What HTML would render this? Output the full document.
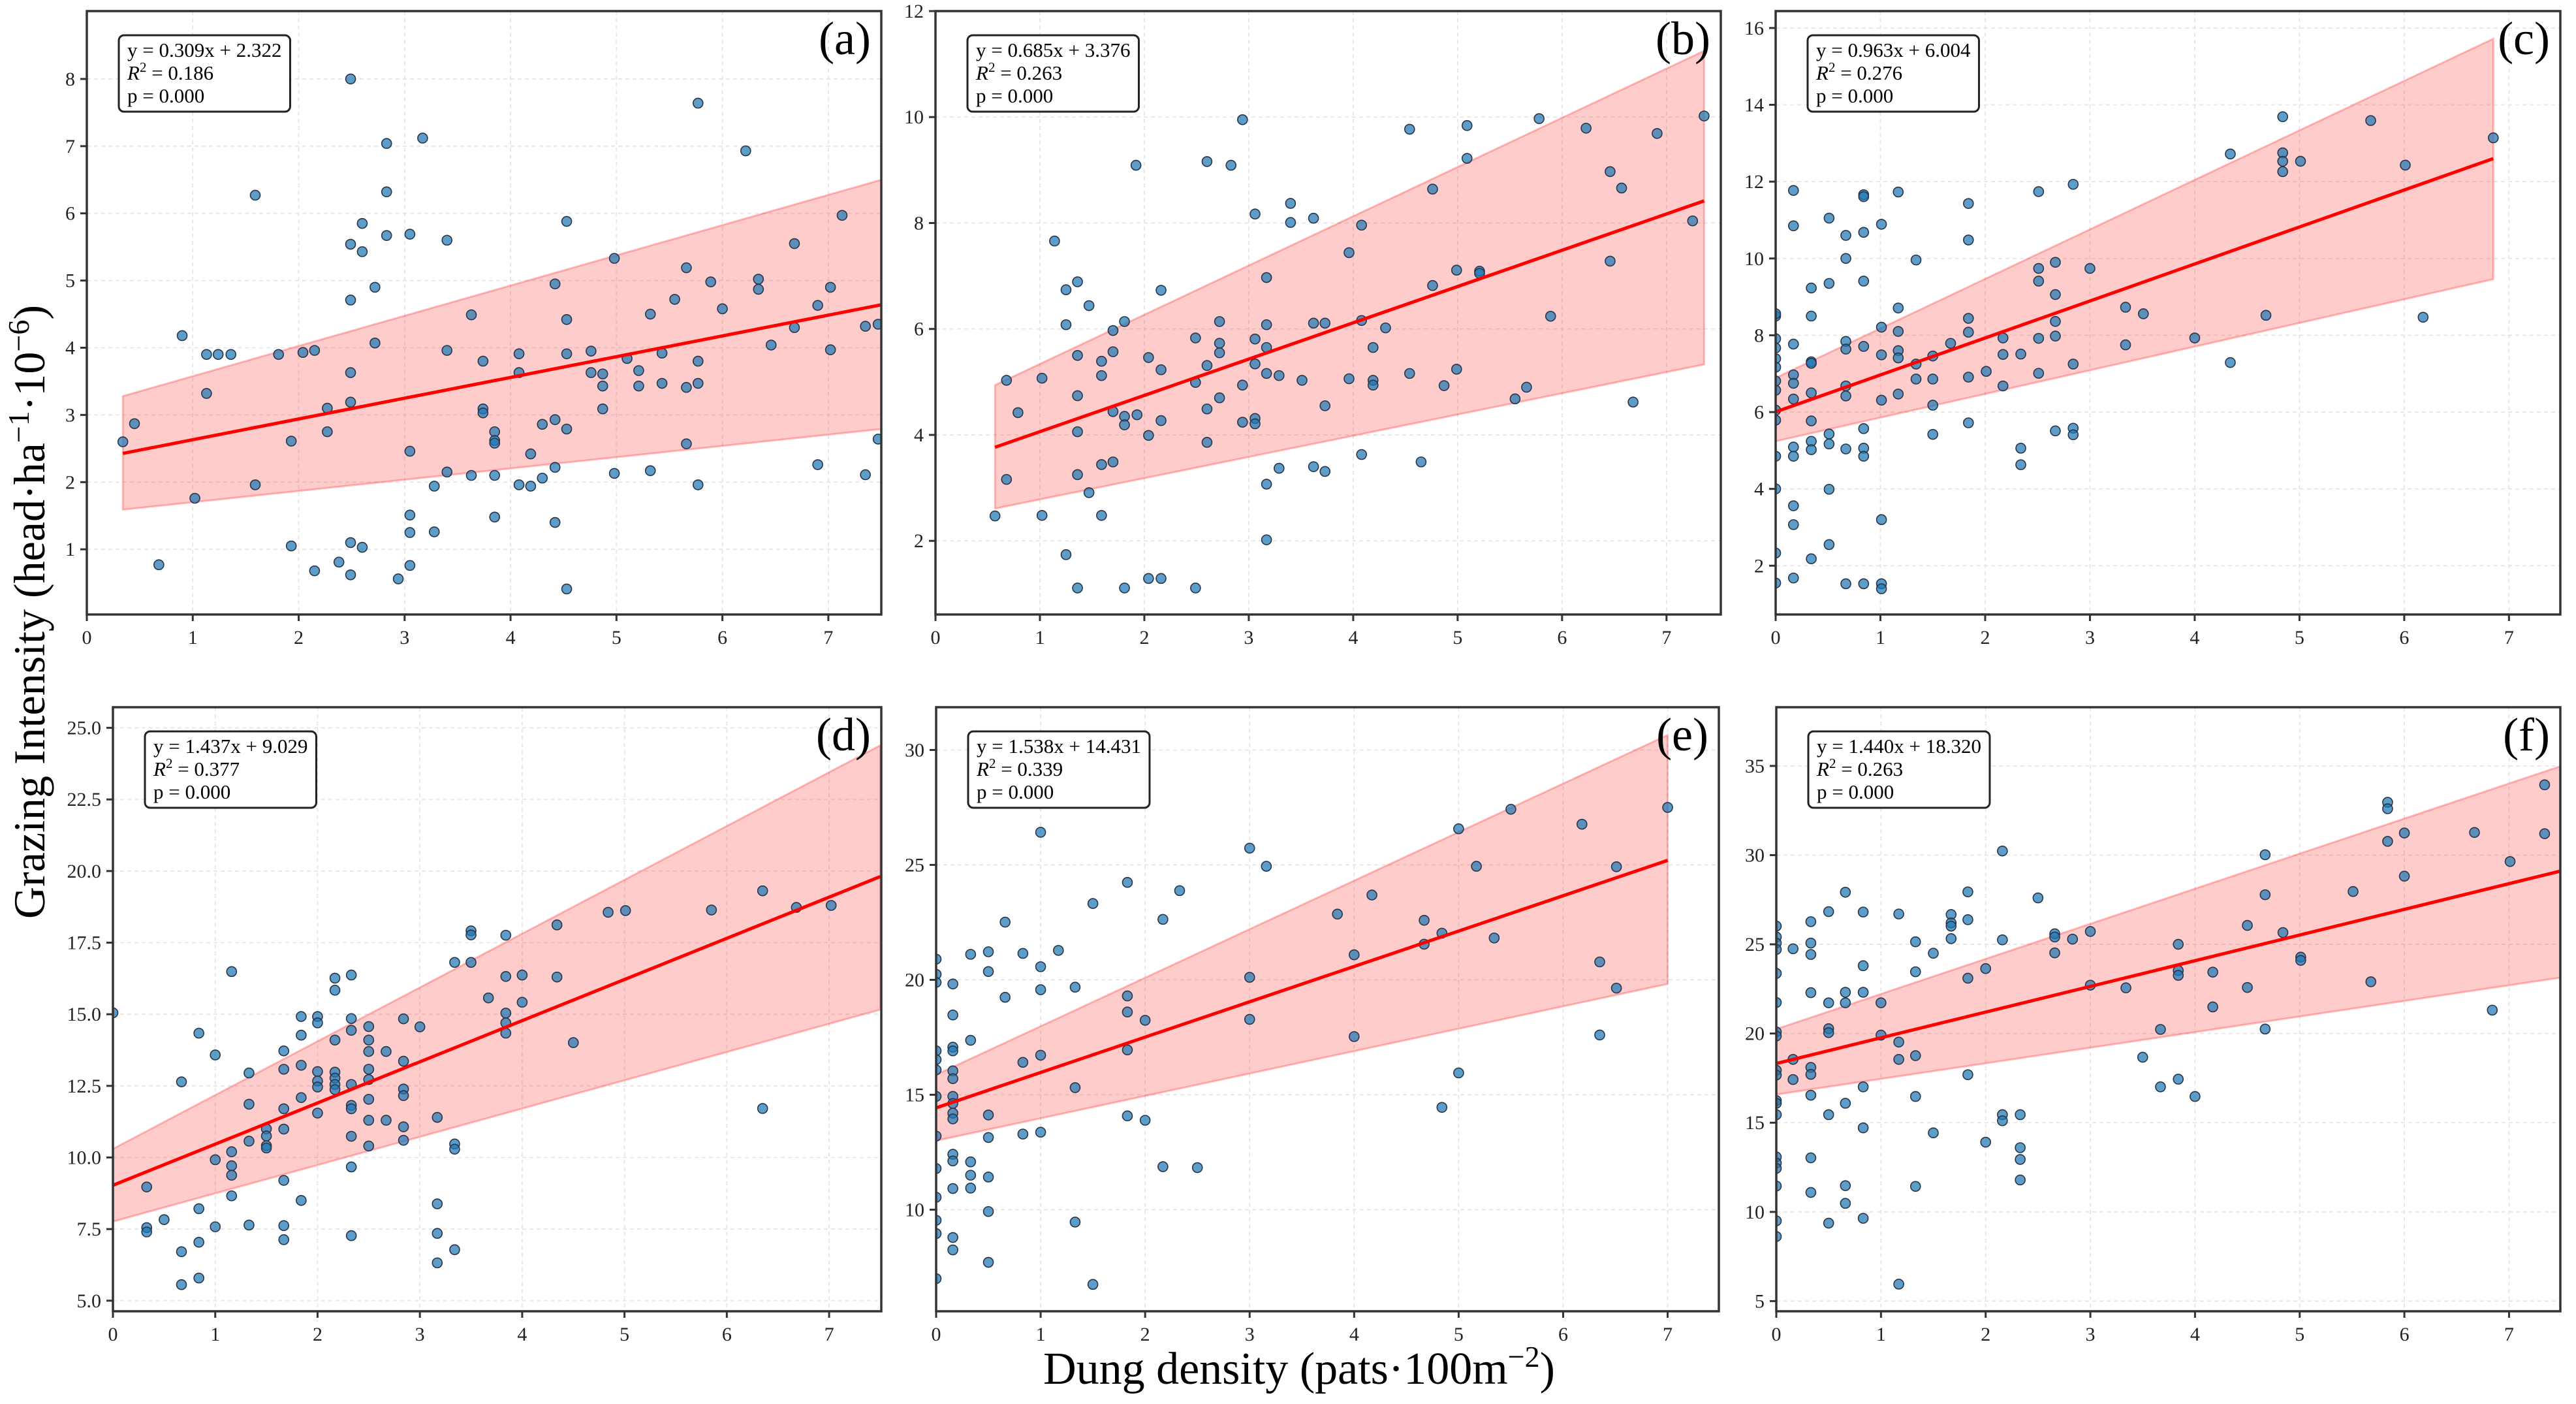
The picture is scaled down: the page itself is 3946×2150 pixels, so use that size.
<!DOCTYPE html>
<html><head><meta charset="utf-8">
<style>
html,body{margin:0;padding:0;background:#fff;}
svg{display:block;font-family:"Liberation Serif","Times New Roman",serif;}
</style></head>
<body>
<svg id="fig" width="3946" height="2150" viewBox="0 0 3946 2150" xmlns="http://www.w3.org/2000/svg">
<text x="68" y="937" font-size="68" text-anchor="middle" transform="rotate(-90 68 937)">Grazing Intensity (head·ha<tspan dy="-24" font-size="46">−1</tspan><tspan dy="24">·10</tspan><tspan dy="-24" font-size="46">−6</tspan><tspan dy="24">)</tspan></text>
<text x="1990" y="2119" font-size="70" text-anchor="middle">Dung density (pats·100m<tspan dy="-26" font-size="46">−2</tspan><tspan dy="26">)</tspan></text>
</svg>
<script>
// ---------- Panel (a) ----------
const aX=[2.49,5.77,2.83,3.17,6.22,1.59,2.83,2.49,2.6,2.6,2.83,3.05,3.4,4.53,7.13,4.98,6.68,2.49,2.72,4.42,5.66,5.89,6.34,6.34,7.02,5.55,6.0,6.9,0.9,3.63,4.53,5.32,6.68,7.35,7.47,6.46,1.13,1.24,1.36,1.81,2.04,2.15,2.72,3.4,4.08,4.53,4.76,5.43,7.02,2.49,3.74,4.08,4.76,4.87,5.1,5.21,5.77,5.77,5.43,5.21,4.87,5.66,1.13,0.45,0.34,2.27,2.49,3.74,3.74,4.87,2.27,1.93,3.05,3.85,3.85,3.85,4.3,4.42,4.53,4.19,5.66,7.47,1.59,1.02,3.28,3.4,3.63,3.85,4.08,4.19,4.3,4.42,4.98,5.32,5.77,6.9,7.35,3.05,3.05,3.28,3.85,4.42,0.68,1.93,2.49,2.6,2.38,2.15,2.49,2.94,3.05,4.53];
const aY=[8.0,7.64,7.04,7.12,6.93,6.27,6.32,5.54,5.85,5.43,5.67,5.69,5.6,5.88,5.97,5.33,5.55,4.71,4.9,4.95,5.19,4.98,5.02,4.87,4.9,4.72,4.58,4.63,4.18,4.49,4.42,4.5,4.3,4.32,4.35,4.04,3.9,3.9,3.9,3.9,3.93,3.96,4.07,3.96,3.91,3.91,3.95,3.92,3.97,3.63,3.8,3.63,3.63,3.61,3.84,3.66,3.8,3.47,3.47,3.43,3.43,3.41,3.32,2.87,2.6,3.1,3.19,3.09,3.03,3.09,2.75,2.61,2.46,2.75,2.62,2.58,2.86,2.93,2.79,2.42,2.57,2.64,1.96,1.76,1.94,2.15,2.1,2.1,1.96,1.94,2.06,2.22,2.13,2.17,1.96,2.26,2.11,1.51,1.25,1.26,1.48,1.4,0.77,1.05,1.1,1.03,0.81,0.68,0.62,0.56,0.76,0.41];
const aFit=[0.309,2.322];
const aStats=["0.186","0.000"];
const aBandX=[0.34,7.5];
const aUpper=[3.28,6.5];
const aLower=[1.59,2.79];
const aYTicks=[1,2,3,4,5,6,7,8];

// ---------- Panel (b) ----------
const bX=[2.94,4.54,5.09,5.78,6.23,6.91,7.36,1.92,2.6,2.83,5.09,4.76,6.46,6.57,3.06,3.4,3.4,3.62,4.08,7.25,1.14,3.96,3.17,4.99,5.21,5.21,6.46,1.25,1.36,2.16,1.47,4.76,1.25,1.81,1.7,2.72,3.17,3.62,3.73,4.08,4.31,5.89,1.36,1.59,1.7,1.59,2.04,2.16,2.49,2.6,2.72,2.72,3.06,3.06,3.17,3.17,3.29,3.51,3.96,4.19,4.19,4.19,4.54,4.99,4.87,0.68,1.02,2.49,2.94,1.36,2.72,5.55,5.66,6.68,0.79,1.7,1.81,1.81,1.93,2.16,2.6,2.94,3.06,3.06,3.73,1.36,2.04,2.6,0.68,1.36,1.59,1.7,1.47,4.08,4.65,3.29,3.62,3.73,3.17,0.57,1.02,1.59,3.17,1.25,2.04,2.16,1.36,1.81,2.49];
const bY=[9.95,9.77,9.84,9.97,9.79,9.69,10.02,9.09,9.16,9.09,9.22,8.64,8.97,8.66,8.17,8.37,8.01,8.09,7.96,8.04,7.66,7.44,6.97,7.11,7.09,7.05,7.28,6.74,6.89,6.73,6.44,6.82,6.08,6.14,5.97,6.14,6.08,6.11,6.11,6.16,6.02,6.24,5.5,5.39,5.57,5.12,5.46,5.23,5.83,5.31,5.73,5.55,5.81,5.34,5.65,5.16,5.12,5.03,5.06,5.65,5.03,4.94,5.16,5.24,4.93,5.03,5.07,4.99,4.94,4.74,4.7,4.68,4.9,4.62,4.42,4.44,4.35,4.19,4.38,4.27,4.49,4.24,4.31,4.21,4.55,4.06,3.99,3.86,3.16,3.25,3.44,3.49,2.91,3.63,3.49,3.37,3.4,3.31,3.07,2.47,2.48,2.48,2.02,1.74,1.29,1.29,1.11,1.11,1.11];
const bFit=[0.685,3.376];
const bStats=["0.263","0.000"];
const bBandX=[0.57,7.36];
const bUpper=[4.94,11.25];
const bLower=[2.61,5.33];
const bYTicks=[2,4,6,8,10,12];

// ---------- Panel (c) ----------
const cX=[4.84,5.68,6.85,4.34,4.84,4.84,5.01,4.84,6.01,0.17,0.84,0.84,1.17,2.51,2.84,1.84,0.17,0.51,0.67,0.84,1.01,1.84,0.67,1.34,0.34,0.51,0.84,2.51,2.51,2.67,3.0,2.67,0,0,0.34,1.17,3.34,3.51,4.68,6.18,2.67,1.84,1.01,1.17,1.84,0,0,0.17,0.67,0.67,0.84,1.67,2.17,2.51,2.67,4.0,3.34,0,0.34,0.34,1.01,1.17,1.17,1.34,1.5,2.17,2.34,2.84,4.34,0,0,0.17,0.17,0.67,1.34,1.5,1.84,2.01,2.51,2.17,0,0.17,0.34,0.67,1.01,1.17,1.5,0,0,0.34,1.84,0.51,0.51,0.84,1.5,2.67,2.84,2.84,0.17,0.17,0.34,0.34,0.67,0.84,0.84,0,2.34,2.34,0,0.51,0.17,0.17,1.01,0.51,0,0.34,0.17,0,0.67,0.84,1.01,1.01];
const cY=[13.69,13.59,13.14,12.72,12.75,12.53,12.53,12.26,12.43,11.77,11.66,11.61,11.73,11.74,11.93,11.43,10.85,11.05,10.6,10.68,10.89,10.48,10.0,9.96,9.23,9.35,9.41,9.74,9.41,9.9,9.74,9.06,8.5,8.56,8.5,8.71,8.73,8.56,8.52,8.47,8.36,8.44,8.21,8.1,8.08,7.91,7.67,7.77,7.84,7.64,7.71,7.79,7.93,7.92,7.98,7.93,7.75,7.39,7.31,7.27,7.49,7.6,7.41,7.25,7.46,7.5,7.51,7.25,7.29,7.17,6.81,6.97,6.75,6.68,6.86,6.86,6.91,7.06,7.01,6.68,6.57,6.34,6.5,6.42,6.31,6.47,6.18,6.05,5.79,5.77,5.72,5.43,5.17,5.57,5.42,5.51,5.58,5.41,5.09,4.85,5.24,5.02,5.04,5.06,4.85,4.85,5.06,4.63,4.0,3.99,3.56,3.07,3.2,2.55,2.33,2.18,1.68,1.55,1.53,1.53,1.53,1.4];
const cFit=[0.963,6.004];
const cStats=["0.276","0.000"];
const cBandX=[0,6.85];
const cUpper=[6.89,15.72];
const cLower=[5.24,9.46];
const cYTicks=[2,4,6,8,10,12,14,16];

// ---------- Panel (d) ----------
const dX=[0,0.33,0.33,0.33,0.5,0.67,0.67,0.67,0.84,0.84,0.84,0.84,1.0,1.0,1.0,1.16,1.16,1.16,1.16,1.16,1.33,1.33,1.33,1.33,1.5,1.5,1.5,1.5,1.67,1.67,1.67,1.67,1.67,1.67,1.67,1.84,1.84,1.84,1.84,1.84,2.0,2.0,2.0,2.0,2.0,2.0,2.17,2.17,2.17,2.17,2.17,2.17,2.17,2.33,2.33,2.33,2.33,2.33,2.33,2.33,2.33,2.33,2.5,2.5,2.5,2.5,2.5,2.5,2.5,2.5,2.67,2.67,2.84,2.84,2.84,2.84,2.84,2.84,3.0,3.17,3.17,3.17,3.17,3.34,3.34,3.34,3.34,3.5,3.5,3.5,3.67,3.84,3.84,3.84,3.84,3.84,4.0,4.0,4.34,4.34,4.5,4.84,5.01,5.85,6.35,6.35,6.68,7.02];
const dY=[15.05,8.97,7.55,7.4,7.83,12.64,6.71,5.56,14.34,8.21,7.04,5.79,13.58,9.92,7.58,16.49,10.2,9.71,9.38,8.66,12.95,11.86,10.57,7.64,11.0,10.75,10.41,10.33,13.72,13.08,11.7,10.99,9.2,7.62,7.13,14.92,14.27,13.22,12.09,8.5,14.92,14.7,13.0,12.67,12.46,11.55,16.26,15.84,14.1,12.98,12.77,12.55,12.37,16.37,14.85,14.44,12.55,11.82,11.7,10.74,9.67,7.27,14.57,14.1,13.7,13.08,12.72,12.03,11.3,10.4,13.7,11.3,14.84,13.36,12.39,12.16,11.07,10.6,14.56,11.4,8.38,7.35,6.32,16.81,10.47,10.29,6.78,17.91,17.77,16.81,15.57,17.76,16.32,15.04,14.7,14.34,16.37,15.42,18.12,16.3,14.01,18.56,18.62,18.64,19.31,11.71,18.73,18.8];
const dFit=[1.437,9.029];
const dStats=["0.377","0.000"];
const dBandX=[0,7.5];
const dUpper=[10.3,24.39];
const dLower=[7.76,15.16];
const dYTicks=[5,7.5,10,12.5,15,17.5,20,22.5,25];

// ---------- Panel (e) ----------
const eX=[0,0,0,0,0,0,0,0,0,0,0,0,0,0.16,0.16,0.16,0.16,0.16,0.16,0.16,0.16,0.16,0.16,0.16,0.16,0.16,0.16,0.16,0.33,0.33,0.33,0.33,0.33,0.5,0.5,0.5,0.5,0.5,0.5,0.5,0.66,0.66,0.83,0.83,0.83,1.0,1.0,1.0,1.0,1.0,1.17,1.33,1.33,1.33,1.5,1.5,1.83,1.83,1.83,1.83,1.83,2.0,2.0,2.17,2.17,2.33,2.5,3.0,3.0,3.0,3.16,3.84,4.0,4.0,4.17,4.67,4.67,4.84,4.84,5.0,5.0,5.17,5.34,5.5,6.18,6.35,6.35,6.51,6.51,7.0];
const eY=[20.9,20.24,19.89,16.91,16.53,16.08,14.93,13.2,11.79,10.54,9.54,8.96,7.0,19.82,18.47,17.07,16.91,16.04,15.7,14.93,14.62,14.2,13.95,12.41,12.12,10.92,8.79,8.25,21.11,17.37,12.08,11.5,10.94,21.22,20.36,14.12,13.14,11.42,9.92,7.71,22.51,19.24,21.15,16.41,13.29,26.42,20.57,19.57,16.72,13.37,21.28,19.68,15.31,9.46,23.32,6.75,24.24,19.3,18.6,16.95,14.08,18.24,13.89,22.63,11.87,23.88,11.83,25.73,20.11,18.28,24.94,22.86,21.09,17.53,23.69,22.59,21.55,22.03,14.45,26.57,15.95,24.94,21.82,27.42,26.77,20.78,17.6,24.92,19.64,27.5];
const eFit=[1.538,14.431];
const eStats=["0.339","0.000"];
const eBandX=[0,7.0];
const eUpper=[15.87,30.65];
const eLower=[13.0,19.82];
const eYTicks=[10,15,20,25,30];

// ---------- Panel (f) ----------
const fX=[0,0,0,0,0,0,0,0,0,0,0,0,0,0,0,0,0,0,0,0.16,0.16,0.16,0.33,0.33,0.33,0.33,0.33,0.33,0.33,0.33,0.33,0.5,0.5,0.5,0.5,0.5,0.5,0.66,0.66,0.66,0.66,0.66,0.66,0.83,0.83,0.83,0.83,0.83,0.83,1.0,1.0,1.17,1.17,1.17,1.17,1.33,1.33,1.33,1.33,1.33,1.5,1.5,1.67,1.67,1.67,1.67,1.83,1.83,1.83,1.83,2.0,2.0,2.16,2.16,2.16,2.16,2.33,2.33,2.33,2.33,2.5,2.66,2.66,2.66,2.83,3.0,3.0,3.34,3.5,3.67,3.67,3.84,3.84,3.84,3.84,4.0,4.17,4.17,4.5,4.5,4.67,4.67,4.67,4.84,5.01,5.01,5.51,5.68,5.84,5.84,5.84,6.0,6.0,6.67,6.84,7.01,7.34,7.34];
const fY=[26.02,25.41,25.07,24.71,23.37,21.74,20.09,19.86,17.94,17.67,16.24,16.09,15.45,13.08,12.74,12.44,11.45,9.5,8.62,24.75,18.55,17.42,26.27,25.07,24.43,22.29,18.1,17.71,16.54,13.03,11.09,26.83,21.72,20.27,20.05,15.45,9.37,27.92,22.31,21.72,16.09,11.47,10.48,26.81,23.8,22.31,17.01,14.71,9.64,21.72,19.91,26.7,19.52,18.55,5.95,25.14,23.46,18.76,16.47,11.43,24.5,14.43,26.67,26.2,26.02,25.32,27.94,26.38,23.1,17.69,23.64,13.91,30.23,25.25,15.45,15.11,15.45,13.6,12.94,11.79,27.6,25.59,25.41,24.52,25.29,25.72,22.71,22.56,18.67,20.23,17.01,25.0,23.53,23.26,17.44,16.47,23.44,21.49,26.06,22.58,30.02,27.78,20.25,25.66,24.28,24.1,27.96,22.9,32.96,32.6,30.77,31.24,28.82,31.27,21.31,29.64,33.94,31.2];
const fFit=[1.440,18.320];
const fStats=["0.263","0.000"];
const fBandX=[0,7.5];
const fUpper=[20.25,35.0];
const fLower=[16.58,23.14];
const fYTicks=[5,10,15,20,25,30,35];

const xTicks=[0,1,2,3,4,5,6,7];

const NS="http://www.w3.org/2000/svg";
const svg=document.getElementById('fig');
function mk(tag,attrs,parent){const e=document.createElementNS(NS,tag);for(const k in attrs)e.setAttribute(k,attrs[k]);(parent||svg).appendChild(e);return e;}

function panel(id,letter,box,xlim,ylim,X,Y,fit,stats,bandX,upper,lower,yTicks,yFmt){
  const [L,R,T,B]=box;
  const sx=v=>L+(v-xlim[0])/(xlim[1]-xlim[0])*(R-L);
  const sy=v=>B-(v-ylim[0])/(ylim[1]-ylim[0])*(B-T);
  const g=mk('g',{});
  
  
  const cp=mk('clipPath',{id:'clip'+id},g);
  mk('rect',{x:L,y:T,width:R-L,height:B-T},cp);
  const grid=mk('g',{},g);
  
  
  xTicks.forEach(t=>{const x=sx(t);mk('line',{x1:x,x2:x,y1:T,y2:B,stroke:'#e6e6e6','stroke-width':1.8,'stroke-dasharray':'6,5'},grid);});
  yTicks.forEach(t=>{const y=sy(t);mk('line',{x1:L,x2:R,y1:y,y2:y,stroke:'#e6e6e6','stroke-width':1.8,'stroke-dasharray':'6,5'},grid);});
  const plot=mk('g',{'clip-path':'url(#clip'+id+')'},g);
  const band=mk('polygon',{points:[[sx(bandX[0]),sy(upper[0])],[sx(bandX[1]),sy(upper[1])],[sx(bandX[1]),sy(lower[1])],[sx(bandX[0]),sy(lower[0])]].map(p=>p.join(',')).join(' '),fill:'rgba(255,0,0,0.2)',stroke:'rgba(255,0,0,0.25)','stroke-width':3},plot);
  
  
  const pts=mk('g',{},plot);
  
  
  for(let i=0;i<X.length;i++){
    const c=mk('circle',{cx:sx(X[i]),cy:sy(Y[i]),r:7.5,fill:'rgba(31,119,180,0.72)',stroke:'#2a3448','stroke-width':1.6},pts);
    
    
  }
  const ln=mk('line',{x1:sx(bandX[0]),y1:sy(fit[0]*bandX[0]+fit[1]),x2:sx(bandX[1]),y2:sy(fit[0]*bandX[1]+fit[1]),stroke:'#ff0000','stroke-width':5},plot);
  
  
  const fr=mk('rect',{x:L,y:T,width:R-L,height:B-T,fill:'none',stroke:'#333','stroke-width':3.5},g);
  
  
  xTicks.forEach(t=>{const x=sx(t);
    mk('line',{x1:x,x2:x,y1:B,y2:B+10,stroke:'#333','stroke-width':3},g);
    const tx=mk('text',{x:x,y:B+45,'font-size':30,'text-anchor':'middle',fill:'#222'},g);
    tx.textContent=t;
    
    
  });
  yTicks.forEach(t=>{const y=sy(t);
    mk('line',{x1:L-10,x2:L,y1:y,y2:y,stroke:'#333','stroke-width':3},g);
    const tx=mk('text',{x:L-18,y:y+10,'font-size':30,'text-anchor':'end',fill:'#222'},g);
    tx.textContent=yFmt?t.toFixed(1):t;
    
    
  });
  const bg=mk('g',{},g);
  
  
  const rect=mk('rect',{x:L+49,y:T+37,width:260,height:117,rx:8,fill:'#fff',stroke:'#222','stroke-width':3},bg);
  const tx0=L+62;
  const t1=mk('text',{x:tx0,y:T+70,'font-size':31},bg);
  t1.textContent='y = '+fit[0].toFixed(3)+'x + '+fit[1].toFixed(3);
  const t2=mk('text',{x:tx0,y:T+105,'font-size':31},bg);
  const ti=mk('tspan',{'font-style':'italic'},t2);ti.textContent='R';
  const ts=mk('tspan',{dy:-12,'font-size':21},t2);ts.textContent='2';
  const tr=mk('tspan',{dy:12},t2);tr.textContent=' = '+stats[0];
  const t3=mk('text',{x:tx0,y:T+140,'font-size':31},bg);
  t3.textContent='p = '+stats[1];
  const w=Math.max(t1.getComputedTextLength(),t2.getComputedTextLength());
  rect.setAttribute('width',w+26);
  const pl=mk('text',{x:R-16,y:T+66,'font-size':72,'text-anchor':'end'},g);
  pl.textContent='('+letter+')';
  
  
}

panel('a','a',[133,1350,17,941],[0,7.5],[0.03,9.01],aX,aY,aFit,aStats,aBandX,aUpper,aLower,aYTicks,false);
panel('b','b',[1433,2636,17,941],[0,7.52],[0.61,12.0],bX,bY,bFit,bStats,bBandX,bUpper,bLower,bYTicks,false);
panel('c','c',[2720,3922,17,941],[0,7.49],[0.73,16.44],cX,cY,cFit,cStats,cBandX,cUpper,cLower,cYTicks,false);
panel('d','d',[173,1350,1083,2008],[0,7.51],[4.63,25.72],dX,dY,dFit,dStats,dBandX,dUpper,dLower,dYTicks,true);
panel('e','e',[1434,2633,1083,2008],[0,7.49],[5.58,31.86],eX,eY,eFit,eStats,eBandX,eUpper,eLower,eYTicks,false);
panel('f','f',[2721,3922,1083,2008],[0,7.49],[4.43,38.29],fX,fY,fFit,fStats,fBandX,fUpper,fLower,fYTicks,false);
</script>
</body></html>
